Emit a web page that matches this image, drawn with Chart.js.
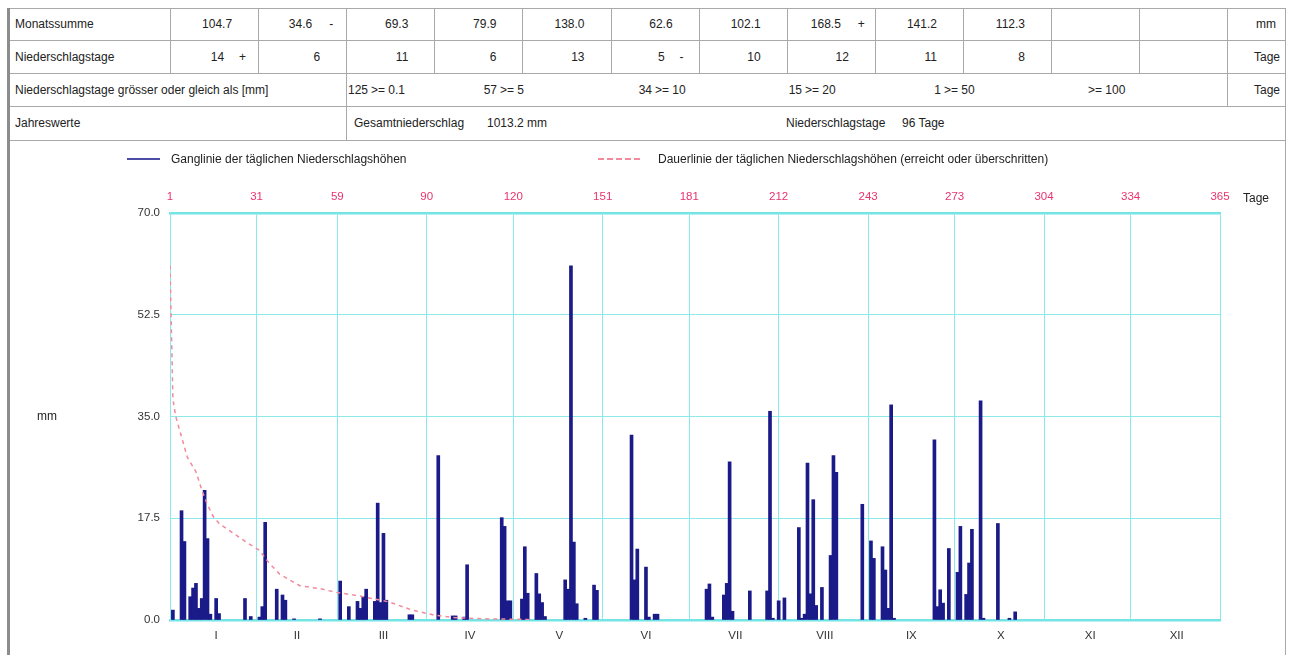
<!DOCTYPE html>
<html>
<head>
<meta charset="utf-8">
<script src="https://cdn.jsdelivr.net/npm/chart.js@4.4.0/dist/chart.umd.min.js"></script>
<style>
  body { margin: 0; background: #fff; font-family: "Liberation Sans", Arial, sans-serif; font-size: 12px; color: #222; }
  #page { position: relative; width: 1290px; height: 655px; overflow: hidden; }
  .t { position: absolute; white-space: nowrap; line-height: 12px; }
  .hl { position: absolute; height: 1px; background: #a9a9a9; }
  .vl { position: absolute; width: 1px; background: #a9a9a9; }
  #chartBox { position: absolute; left: 0; top: 140px; width: 1290px; height: 515px; }
</style>
</head>
<body>
<div id="page">
  <div id="chartBox"><canvas id="grafico"></canvas></div>
</div>
<script>
// Monatswerte (Tabelle)
const monthNames = ['I', 'II', 'III', 'IV', 'V', 'VI', 'VII', 'VIII', 'IX', 'X', 'XI', 'XII'];
const monthSums = ['104.7', '34.6', '69.3', '79.9', '138.0', '62.6', '102.1', '168.5', '141.2', '112.3', '', ''];
const sumMarks = ['', '-', '', '', '', '', '', '+', '', '', '', ''];
const rainDayCounts = ['14', '6', '11', '6', '13', '5', '10', '12', '11', '8', '', ''];
const countMarks = ['+', '', '', '', '', '-', '', '', '', '', '', ''];
const thresholdCounts = ['125', '57', '34', '15', '1', ''];
const thresholdMm = ['0.1', '5', '10', '20', '50', '100'];
const yearTotal = '1013.2 mm';
const yearRainDays = '96 Tage';

// Achsen
const monthEndDays = [1, 31, 59, 90, 120, 151, 181, 212, 243, 273, 304, 334, 365];
const monthMidDays = [17, 45, 75, 105, 136, 166, 197, 228, 258, 289, 320, 350];
const yTicks = [0, 17.5, 35, 52.5, 70];

// Tageswerte (nur Tage mit Niederschlag)
const rainDays = [
  2, 5, 6, 8, 9, 10, 11, 12, 13, 14, 15, 17, 18, 27, 29,
  32, 33, 34, 38, 40, 41, 44, 53,
  60, 63, 66, 67, 68, 69, 72, 73, 74, 75, 76, 84, 85,
  94, 99, 100, 103, 104, 116, 117, 118, 119,
  123, 124, 125, 128, 129, 130, 131, 138, 139, 140, 141, 142, 145, 148, 149,
  161, 162, 163, 166, 167, 169, 170,
  187, 188, 189, 193, 194, 195, 196, 202, 208, 209, 210, 212,
  214, 219, 220, 221, 222, 223, 224, 225, 227, 230, 231, 232, 241,
  244, 245, 248, 249, 250, 251, 252, 266, 267, 268, 269, 271,
  274, 275, 277, 278, 279, 282, 283, 288, 292, 294
];
const rainMm = [
  1.7, 18.8, 13.5, 4.0, 5.5, 6.3, 2.0, 3.7, 22.3, 14.0, 1.0, 3.7, 1.1, 3.7, 0.6,
  0.5, 2.3, 16.8, 5.3, 4.3, 3.4, 0.2, 0.2,
  6.7, 2.3, 3.2, 2.0, 4.0, 5.3, 3.2, 20.1, 3.0, 14.9, 3.4, 0.9, 0.9,
  28.3, 0.7, 0.7, 0.5, 9.5, 17.6, 16.1, 3.3, 3.3,
  3.6, 12.6, 4.6, 8.0, 4.5, 3.0, 0.6, 6.9, 5.3, 60.9, 13.4, 2.8, 0.3, 6.0, 5.1,
  31.8, 6.9, 12.2, 9.1, 0.5, 1.0, 1.0,
  5.3, 6.2, 0.5, 4.3, 6.3, 27.2, 1.5, 5.0, 5.0, 35.9, 0.3, 3.3,
  3.8, 15.9, 0.3, 1.0, 27.0, 4.5, 20.7, 2.5, 5.6, 11.1, 28.3, 25.4, 19.9,
  13.6, 10.6, 12.6, 8.6, 2.0, 37.0, 0.3, 31.0, 2.3, 5.2, 2.9, 12.3,
  8.2, 16.1, 4.4, 9.8, 15.6, 37.7, 0.3, 16.6, 0.3, 1.4
];

// Dauerlinie
const durationDays = [1, 2, 3, 5, 7, 10, 12, 14, 16, 18, 23, 28, 32, 35, 39, 46, 54, 58, 66, 77, 85, 93, 100, 110, 125, 126];
const durationMm = [61.0, 38.0, 35.0, 31.5, 28.0, 25.5, 22.4, 19.8, 17.8, 16.6, 14.9, 13.2, 12.0, 10.0, 7.9, 5.9, 5.3, 4.8, 4.2, 3.1, 1.7, 0.8, 0.4, 0.2, 0.1, 0];

// ---- Tabelle ----
const page = document.getElementById('page');
const colLeft = 170, colW = 88.1;
const rowTops = [8, 40, 73, 106, 140];

function addText(x, y, txt, align) {
  const el = document.createElement('div');
  el.className = 't';
  el.textContent = txt;
  el.style.top = (y - 6) + 'px';
  if (align === 'right') {
    el.style.right = (1290 - x) + 'px';
  } else {
    el.style.left = x + 'px';
  }
  page.appendChild(el);
  return el;
}
function hLine(x1, x2, y) {
  const el = document.createElement('div');
  el.className = 'hl';
  el.style.left = x1 + 'px'; el.style.width = (x2 - x1) + 'px'; el.style.top = y + 'px';
  page.appendChild(el);
}
function vLine(x, y1, y2, w, c) {
  const el = document.createElement('div');
  el.className = 'vl';
  el.style.left = x + 'px'; el.style.top = y1 + 'px'; el.style.height = (y2 - y1) + 'px';
  if (w) el.style.width = w + 'px';
  if (c) el.style.background = c;
  page.appendChild(el);
}

rowTops.forEach(y => hLine(8, 1286, y));
vLine(7, 8, 655, 3, '#8c8c8c');
vLine(1285, 8, 655);
for (let k = 0; k <= 12; k++) vLine(Math.round(colLeft + k * colW), 8, 73);
vLine(346, 73, 140);
vLine(1227, 73, 106);

const rowMid = [24, 57, 90, 123];
addText(15, rowMid[0], 'Monatssumme');
addText(15, rowMid[1], 'Niederschlagstage');
addText(15, rowMid[2], 'Niederschlagstage grösser oder gleich als [mm]');
addText(15, rowMid[3], 'Jahreswerte');
addText(1256, rowMid[0], 'mm');
addText(1254, rowMid[1], 'Tage');
addText(1254, rowMid[2], 'Tage');

monthNames.forEach((m, i) => {
  const right = colLeft + (i + 1) * colW;
  if (monthSums[i]) {
    addText(right - (sumMarks[i] ? 34 : 26), rowMid[0], monthSums[i], 'right');
    if (sumMarks[i]) addText(right - 17, rowMid[0], sumMarks[i]);
  }
  if (rainDayCounts[i]) {
    addText(right - (countMarks[i] ? 34 : 26), rowMid[1], rainDayCounts[i], 'right');
    if (countMarks[i]) addText(right - 19, rowMid[1], countMarks[i]);
  }
});

const thrX = [371, 500, 655, 805, 944, 1088];
thresholdMm.forEach((v, k) => {
  if (thresholdCounts[k]) addText(thrX[k] - 3, rowMid[2], thresholdCounts[k], 'right');
  addText(thrX[k], rowMid[2], '>= ' + v);
});

addText(354, rowMid[3], 'Gesamtniederschlag');
addText(487, rowMid[3], yearTotal);
addText(786, rowMid[3], 'Niederschlagstage');
addText(902, rowMid[3], yearRainDays);

// ---- Legende ----
const legBlue = document.createElement('div');
legBlue.style.cssText = 'position:absolute;left:127px;top:158px;width:33px;height:2px;background:#4d4da6;';
page.appendChild(legBlue);
addText(171, 159, 'Ganglinie der täglichen Niederschlagshöhen');
const legPink = document.createElement('div');
legPink.style.cssText = 'position:absolute;left:598px;top:158px;width:42px;height:0;border-top:2px dashed #f2899c;';
page.appendChild(legPink);
addText(658, 159, 'Dauerlinie der täglichen Niederschlagshöhen (erreicht oder überschritten)');

addText(37, 416, 'mm');
addText(1243, 198, 'Tage');

// ---- Diagramm ----
const cyan = '#8ce9ea';
const ctx = document.getElementById('grafico').getContext('2d');
new Chart(ctx, {
  type: 'bar',
  data: {
    datasets: [
      {
        type: 'line',
        label: 'Dauerlinie der täglichen Niederschlagshöhen (erreicht oder überschritten)',
        data: durationDays.map((d, i) => ({ x: d, y: durationMm[i] })),
        borderColor: '#f2899c',
        borderDash: [4, 4],
        borderWidth: 1.5,
        pointRadius: 0,
        fill: false,
        order: 1
      },
      {
        type: 'bar',
        label: 'Ganglinie der täglichen Niederschlagshöhen',
        data: rainDays.map((d, i) => ({ x: d, y: rainMm[i] })),
        backgroundColor: '#1a1a88',
        barThickness: 3,
        order: 2
      }
    ]
  },
  options: {
    responsive: true,
    maintainAspectRatio: false,
    animation: false,
    layout: { padding: { left: 0, right: 70, top: 0, bottom: 0 } },
    plugins: { legend: { display: false }, tooltip: { enabled: false } },
    scales: {
      x: {
        type: 'linear', position: 'top', min: 1, max: 365, offset: false,
        afterBuildTicks: s => { s.ticks = monthEndDays.map(v => ({ value: v })); },
        afterFit: s => { s.height = 73; },
        ticks: { color: '#e8336e', font: { size: 11.5 }, padding: 9, maxRotation: 0, autoSkip: false, callback: v => String(v) },
        grid: { color: cyan, drawTicks: false, offset: false },
        border: { color: '#74e4e5', width: 2.5 }
      },
      x2: {
        type: 'linear', position: 'bottom', min: 1, max: 365, offset: false,
        afterBuildTicks: s => { s.ticks = monthMidDays.map(v => ({ value: v })); },
        afterFit: s => { s.height = 35; },
        ticks: { color: '#333', font: { size: 11.5 }, padding: 9, maxRotation: 0, autoSkip: false, callback: (v, i) => monthNames[i] },
        grid: { display: false, drawTicks: false },
        border: { color: '#74e4e5', width: 2.5 }
      },
      y: {
        min: 0, max: 70,
        afterBuildTicks: s => { s.ticks = yTicks.map(v => ({ value: v })); },
        afterFit: s => { s.width = 170; },
        ticks: { color: '#333', font: { size: 11.5 }, padding: 10, callback: v => v.toFixed(1) },
        grid: { color: cyan, drawTicks: false },
        border: { color: cyan, width: 1 }
      }
    }
  }
});
</script>
</body>
</html>
